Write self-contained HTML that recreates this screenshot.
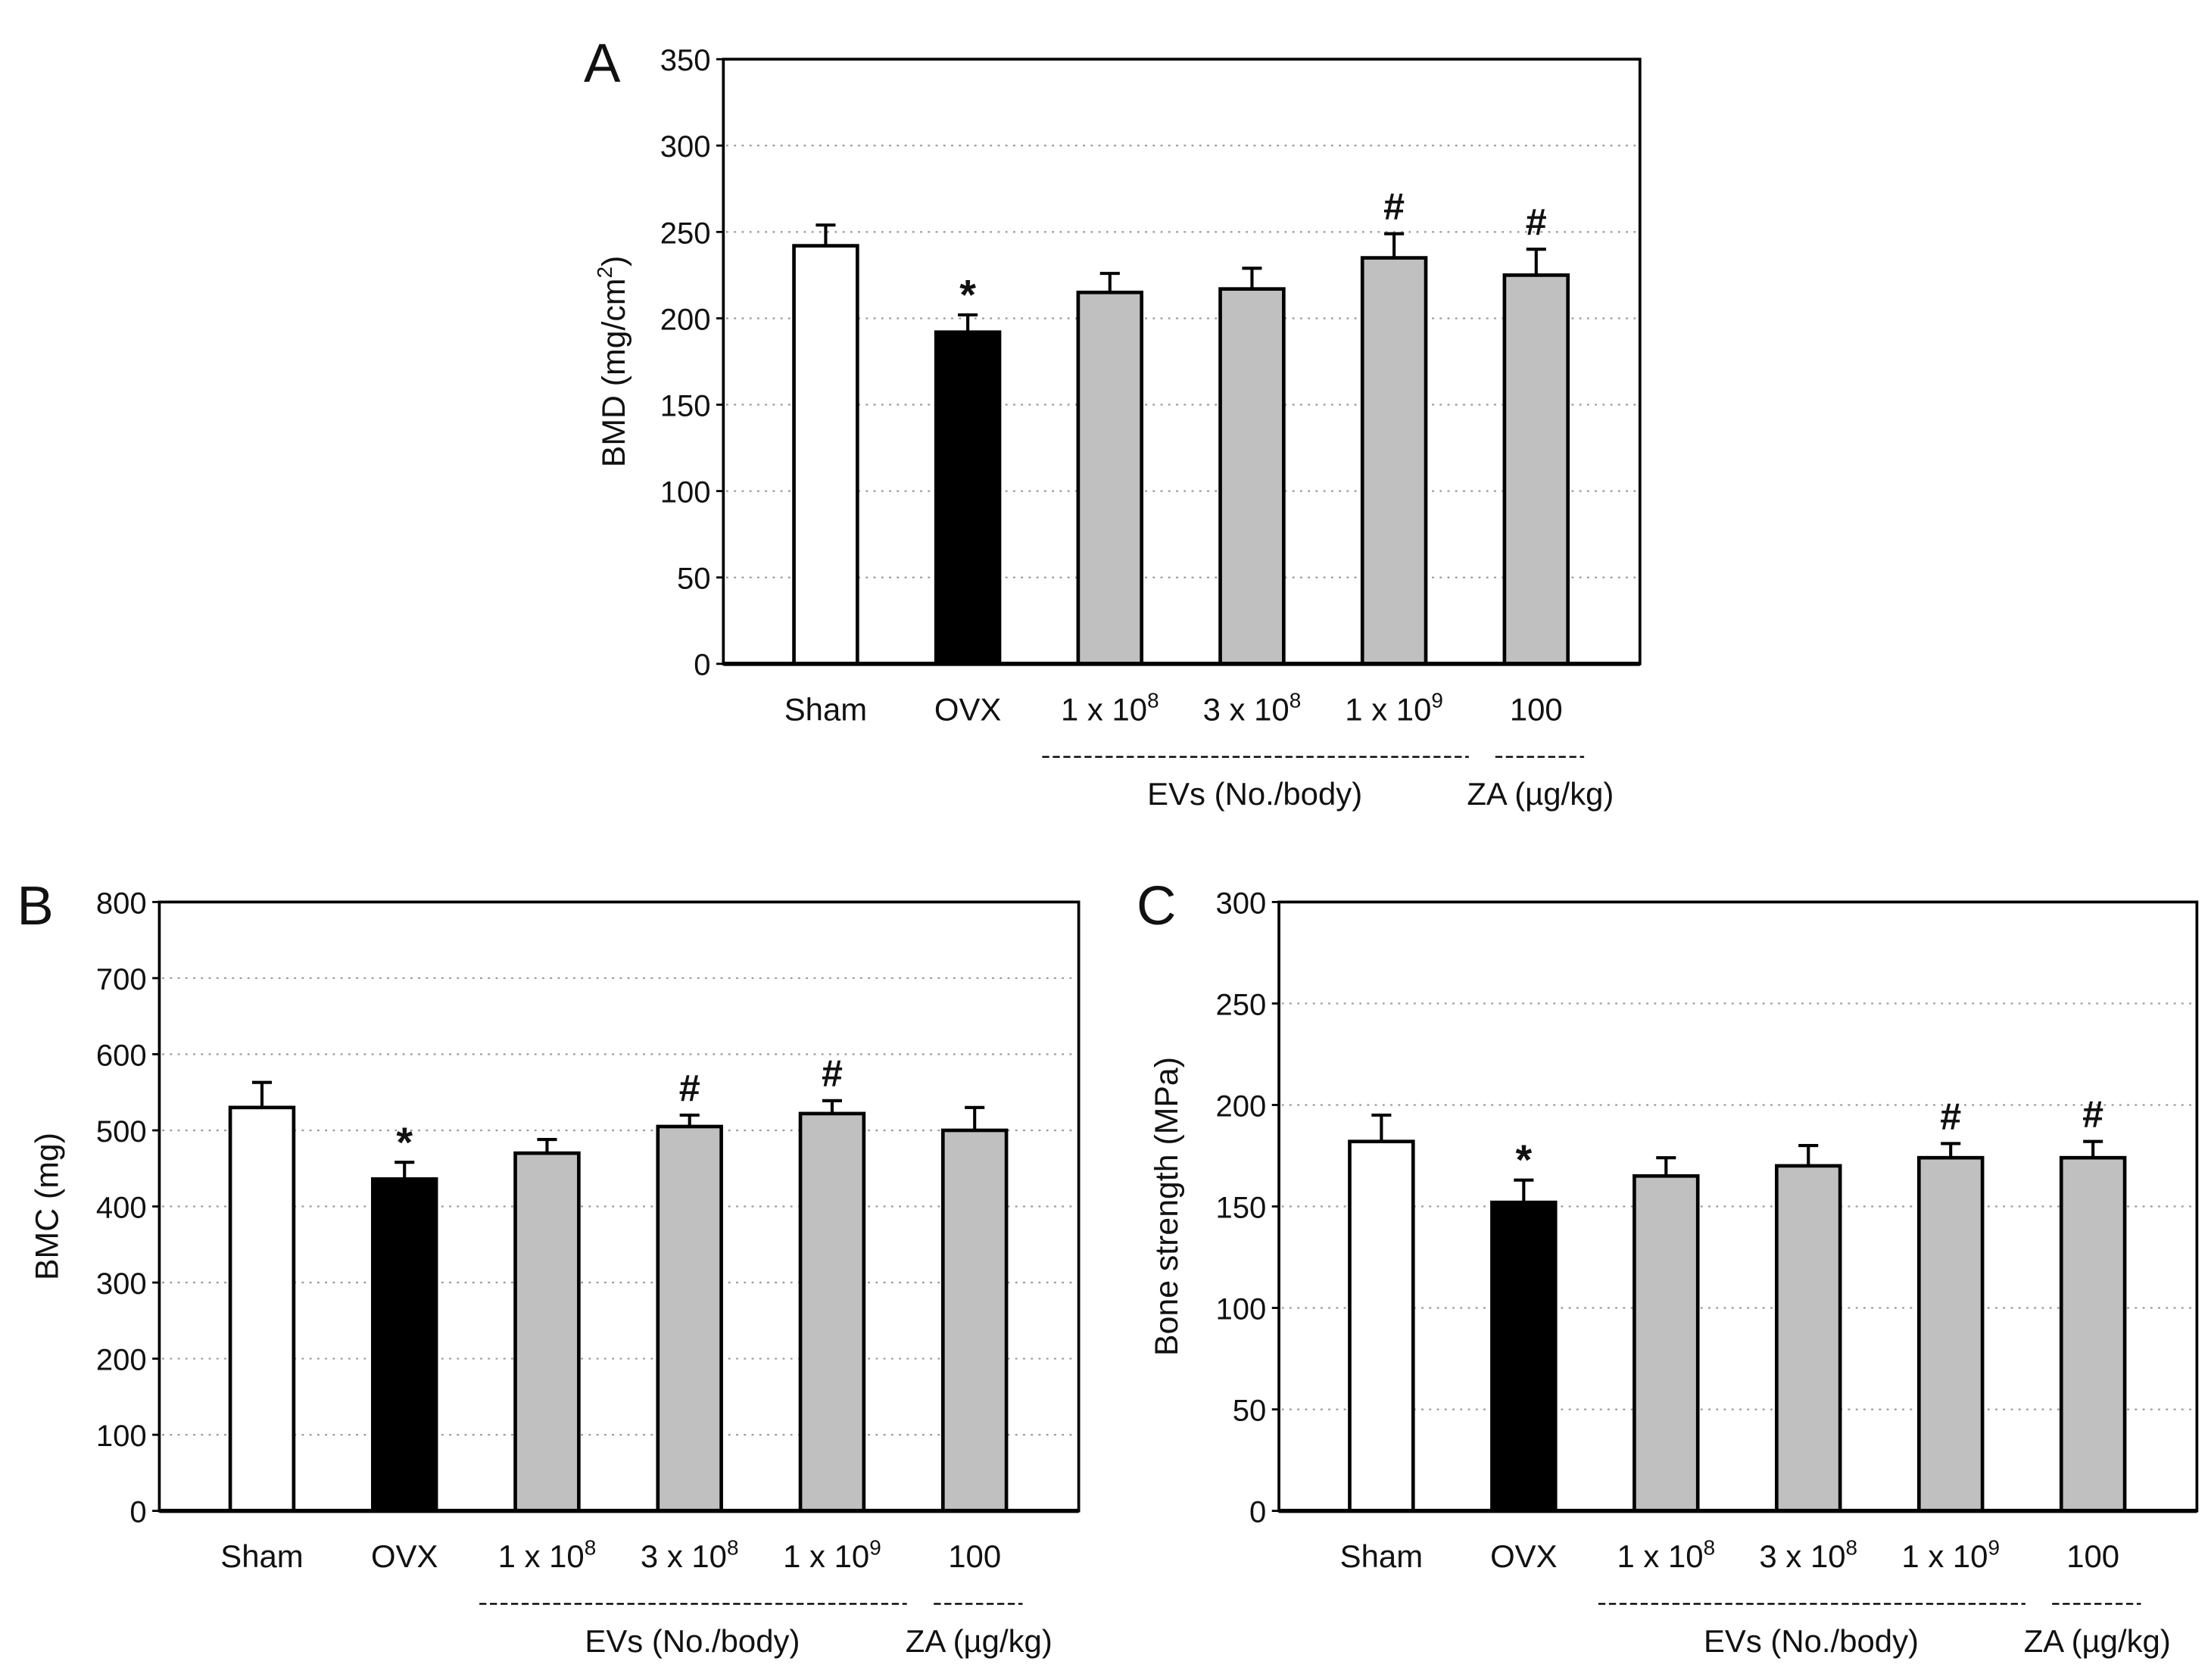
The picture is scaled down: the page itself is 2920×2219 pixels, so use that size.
<!DOCTYPE html>
<html><head><meta charset="utf-8"><style>
html,body{margin:0;padding:0;background:#fff;}
svg{display:block;}
text{font-family:"Liberation Sans",sans-serif;fill:#111;}
</style></head><body>
<svg id="fig" width="2920" height="2219" viewBox="0 0 1568 1192" preserveAspectRatio="none" xmlns="http://www.w3.org/2000/svg"></svg>
<script>
const categories = ["Sham","OVX","1 x 10","3 x 10","1 x 10","100"];
const superscripts = ["","","8","8","9",""];
const fills = ["#ffffff","#000000","#c0c0c0","#c0c0c0","#c0c0c0","#c0c0c0"];
const bmdValues = [242,192,215,217,235,225];
const bmdErrors = [12,10,11,12,14,15];
const bmdMarks = ["","*","","","#","#"];
const bmdTicks = [0,50,100,150,200,250,300,350];
const bmcValues = [530,436,470,505,522,500];
const bmcErrors = [33,22,18,15,17,30];
const bmcMarks = ["","*","","#","#",""];
const bmcTicks = [0,100,200,300,400,500,600,700,800];
const bsValues = [182,152,165,170,174,174];
const bsErrors = [13,11,9,10,7,8];
const bsMarks = ["","*","","","#","#"];
const bsTicks = [0,50,100,150,200,250,300];

const svg = document.getElementById('fig');
const NS = "http://www.w3.org/2000/svg";
function mk(tag, attrs, parent){
  const e = document.createElementNS(NS, tag);
  for (const k in attrs) e.setAttribute(k, attrs[k]);
  (parent||svg).appendChild(e);
  return e;
}

function panel(cfg){
  const g = mk('g', {});
  
  
  const {L,R,T,B} = cfg;
  const ymax = cfg.ticks[cfg.ticks.length-1];
  const y = v => B - (v/ymax)*(B-T);
  const step = (R-L)/6.45;
  const x = i => L + step*(0.72 + i*1.0);
  cfg.ticks.forEach(t=>{
    if (t===0 || t===ymax) return;
    const gl = mk('line',{x1:L+2,x2:R-2,y1:y(t),y2:y(t),stroke:'#999','stroke-width':1.2,'stroke-dasharray':'1.5 4'},g);
    
    
  });
  cfg.ticks.forEach(t=>{
    const tk = mk('line',{x1:L-5,x2:L,y1:y(t),y2:y(t),stroke:'#000','stroke-width':1.5},g);
    
    
    const tl = mk('text',{x:L-9,y:y(t)+8,'text-anchor':'end','font-size':21.5},g);
    tl.textContent = t;
    
    
  });
  const bw = 45;
  cfg.values.forEach((v,i)=>{
    const cx = x(i);
    const top = y(v+cfg.errors[i]);
    const eb = mk('path',{d:`M${cx},${y(v)} V${top} M${cx-7},${top} H${cx+7}`,stroke:'#000','stroke-width':2.2,fill:'none'},g);
    
    
    const r = mk('rect',{x:cx-bw/2,y:y(v),width:bw,height:B-y(v),fill:fills[i],stroke:'#000','stroke-width':2.5},g);
    
    
    if (cfg.marks[i]){
      const star = cfg.marks[i]==='*';
      const m = mk('text',{x:cx,y:top-(star?4:10),'text-anchor':'middle','font-size':star?30:27,'font-weight':'bold'},g);
      m.textContent = cfg.marks[i];
      
      
    }
    const lab = mk('text',{x:cx,y:B+40,'text-anchor':'middle','font-size':22.5},g);
    lab.textContent = categories[i];
    if (superscripts[i]){
      const s = mk('tspan',{'font-size':15,dy:-9},lab);
      s.textContent = superscripts[i];
    }
    
    
  });
  const fr = mk('rect',{x:L,y:T,width:R-L,height:B-T,fill:'none',stroke:'#000','stroke-width':2},g);
  
  
  mk('line',{x1:L,x2:R,y1:B,y2:B,stroke:'#000','stroke-width':3},g);
  const dy = B+66;
  const d1 = mk('line',{x1:x(2)-48,x2:x(4)+53,y1:dy,y2:dy,stroke:'#000','stroke-width':1.3,'stroke-dasharray':'5 2.5'},g);
  
  
  const d2 = mk('line',{x1:x(5)-29,x2:x(5)+34,y1:dy,y2:dy,stroke:'#000','stroke-width':1.3,'stroke-dasharray':'5 2.5'},g);
  
  
  const g1 = mk('text',{x:x(3)+2,y:B+100,'text-anchor':'middle','font-size':22.5},g);
  g1.textContent = 'EVs (No./body)';
  
  
  const g2 = mk('text',{x:x(5)+3,y:B+100,'text-anchor':'middle','font-size':22.5},g);
  g2.textContent = 'ZA (µg/kg)';
  
  
  const yt = mk('text',{x:0,y:0,'text-anchor':'middle','font-size':23,transform:`translate(${cfg.ytx},${(T+B)/2}) rotate(-90)`},g);
  yt.textContent = cfg.ytitle;
  if (cfg.ysup){ const s=mk('tspan',{'font-size':15,dy:-9},yt); s.textContent=cfg.ysup; const s2=mk('tspan',{dy:9},yt); s2.textContent=')'; }
  
  
  const pl = mk('text',{x:cfg.lx,y:T+16,'font-size':39},g);
  pl.textContent = cfg.letter;
  
  
}

panel({name:'panel-a-bmd',L:513,R:1163,T:42,B:471,ticks:bmdTicks,values:bmdValues,errors:bmdErrors,marks:bmdMarks,ytitle:'BMD (mg/cm',ysup:'2',ytx:443,letter:'A',lx:414});
panel({name:'panel-b-bmc',L:113,R:765,T:640,B:1072,ticks:bmcTicks,values:bmcValues,errors:bmcErrors,marks:bmcMarks,ytitle:'BMC (mg)',ytx:41,letter:'B',lx:12});
panel({name:'panel-c-bone-strength',L:907,R:1558,T:640,B:1072,ticks:bsTicks,values:bsValues,errors:bsErrors,marks:bsMarks,ytitle:'Bone strength (MPa)',ytx:835,letter:'C',lx:806});
</script>
</body></html>
